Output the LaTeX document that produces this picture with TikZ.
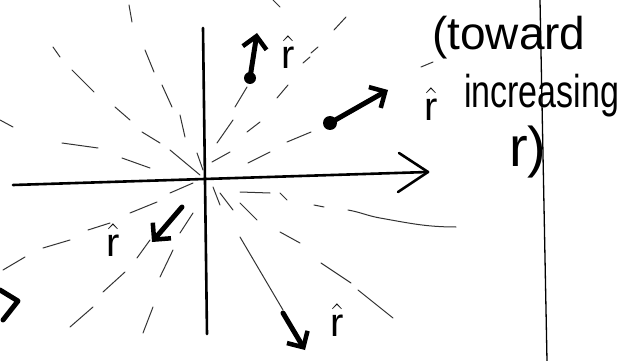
\RequirePackage{fix-cm}
\documentclass[tikz,border=0pt]{standalone}
\usepackage{fontspec}
\setmainfont{Liberation Sans}
\usetikzlibrary{arrows.meta}
\begin{document}
\begin{tikzpicture}[x=1pt,y=-1pt,
  field/.style={line width=1pt, line cap=round, black!80},
  axis/.style={line width=2.6pt, line cap=round, line join=round},
  vec/.style={line width=5pt, line cap=round, -{Straight Barb[length=12pt,width=24pt,line width=4.5pt]}},
  dotmark/.style={circle, fill=black, inner sep=0pt, minimum size=12pt},
  hand/.style={font=\fontsize{46}{50}\selectfont, inner sep=0pt, anchor=base west},
  lbl/.style={font=\fontsize{40}{44}\selectfont, inner sep=0pt}]
\useasboundingbox (0,0) rectangle (622,361);
% field lines (short radial strokes)
\foreach \a/\b in {
 {(129,5)}/{(132,22)}, {(53,47)}/{(60,57)}, {(72,70)}/{(94,92)}, {(0,120)}/{(13,127)},
 {(145,50)}/{(154,72)}, {(162,85)}/{(172,107)}, {(115,107)}/{(130,120)}, {(142,132)}/{(160,143)},
 {(180,115)}/{(185,137)}, {(62,143)}/{(98,148)}, {(122,158)}/{(150,168)}, {(170,150)}/{(200,175)},
 {(197,153)}/{(203,170)},
 {(217,143)}/{(233,120)}, {(235,107)}/{(247,87)}, {(247,132)}/{(260,122)}, {(277,98)}/{(288,85)},
 {(303,63)}/{(310,57)}, {(287,142)}/{(311,132)}, {(248,163)}/{(270,152)}, {(212,162)}/{(230,152)},
 {(273,0)}/{(280,7)}, {(334,30)}/{(346,17)}, {(311,53)}/{(318,47)}, {(421,67)}/{(433,62)},
 {(170,193)}/{(193,183)}, {(130,213)}/{(157,202)}, {(88,230)}/{(110,223)}, {(43,248)}/{(70,240)},
 {(3,270)}/{(25,257)}, {(137,258)}/{(150,240)}, {(103,292)}/{(125,272)}, {(70,327)}/{(93,307)},
 {(160,277)}/{(173,250)}, {(180,233)}/{(193,213)}, {(143,333)}/{(153,307)},
 {(213,187)}/{(220,205)}, {(220,193)}/{(233,210)}, {(240,203)}/{(257,220)}, {(240,237)}/{(283,310)},
 {(240,192)}/{(270,193)}, {(280,193)}/{(287,200)}, {(280,232)}/{(300,243)}, {(314,205)}/{(324,207)},
 {(321,263)}/{(351,283)}, {(358,290)}/{(393,318)}}
 {\draw[field] \a -- \b;}
\draw[field] (348,210) to[out=-10,in=170] (380,218) to[out=-10,in=180] (456,227);
% axes
\coordinate (xl) at (13,185);
\coordinate (xr) at (428,172);
\coordinate (xb1) at (399,153);
\coordinate (xb2) at (398,192);
\coordinate (yt) at (203,28);
\coordinate (yb) at (207,334);
\draw[axis] (xl) -- (xr);
\draw[axis] (xb1) -- (xr) -- (xb2);
\draw[axis] (yt) -- (yb);
% right vertical line
\coordinate (vt) at (540,0);
\coordinate (vb) at (547,361);
\draw[line width=1.3pt] (vt) -- (vb);
% unit vectors
\node[dotmark] (d1) at (250,78) {};
\coordinate (t1) at (257,33);
\draw[vec] (d1.center) -- (t1);
\node[dotmark, minimum size=14pt] (d2) at (330,123) {};
\coordinate (t2) at (388,90);
\draw[vec] (d2.center) -- (t2);
\coordinate (s3) at (182,207);
\coordinate (t3) at (152,242);
\draw[vec] (s3) -- (t3);
\coordinate (s4) at (283,313);
\coordinate (t4) at (305,350);
\draw[vec] (s4) -- (t4);
\coordinate (l1) at (0,290);
\coordinate (l2) at (18,301);
\coordinate (l3) at (3,320);
\draw[line width=5pt, line cap=round, line join=round] (l1) -- (l2) -- (l3);
% labels
\node[lbl] (r1) at (288,52) {$\hat{\mathrm{r}}$};
\node[lbl] (r2) at (431,104) {$\hat{\mathrm{r}}$};
\node[lbl] (r3) at (113,240) {$\hat{\mathrm{r}}$};
\node[lbl] (r4) at (337,320) {$\hat{\mathrm{r}}$};
% handwritten note
\node[hand] (n1) at (432,50) {(toward};
\node[hand, xscale=0.74] (n2) at (464,107) {increasing};
\node[hand, font=\fontsize{56}{60}\selectfont] (n3) at (509,166) {r)};
\end{tikzpicture}
\end{document}
